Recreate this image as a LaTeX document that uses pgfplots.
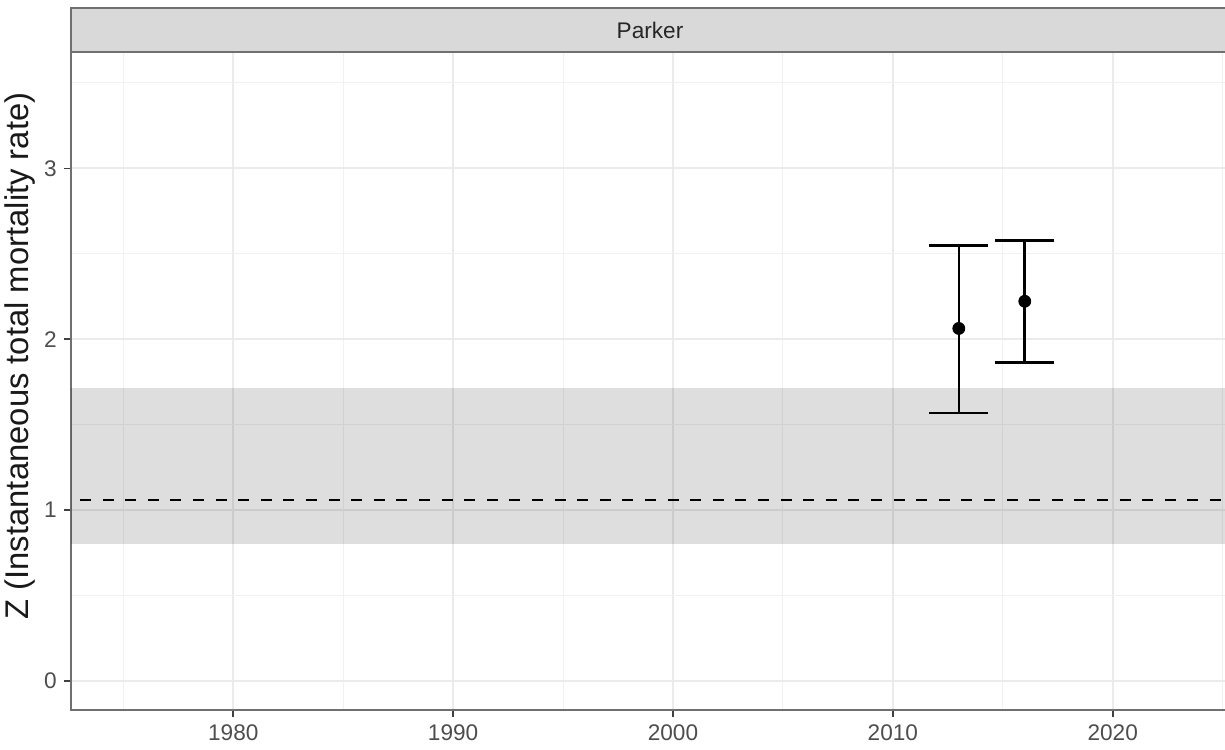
\documentclass[border=0pt]{standalone}
\usepackage{fontspec}
\setmainfont{Liberation Sans}
\usepackage{pgfplots}
\pgfplotsset{compat=1.18}
\definecolor{tickgray}{HTML}{4D4D4D}
\definecolor{gridgray}{HTML}{EBEBEB}
\definecolor{stripfill}{HTML}{D9D9D9}
\definecolor{bordergray}{HTML}{707070}
\begin{document}
\begin{tikzpicture}
\useasboundingbox (0,0) rectangle (612.5pt,374.5pt);
\begin{axis}[
  name=ax,
  at={(35.5pt,19.5pt)}, anchor=south west,
  scale only axis, width=579pt, height=329pt,
  xmin=1972.62, xmax=2025.29, ymin=-0.170, ymax=3.681,
  xtick={1980,1990,2000,2010,2020}, ytick={0,1,2,3},
  minor xtick={1975,1985,1995,2005,2015,2025},
  minor ytick={0.5,1.5,2.5,3.5},
  grid=both,
  major grid style={draw=gridgray, line width=1pt},
  minor grid style={draw=gridgray!70, line width=0.5pt},
  minor tick length=0pt,
  major tick length=3.6pt,
  tick align=outside,
  xtick pos=bottom, ytick pos=left,
  tick style={draw=black!75, line width=0.8pt},
  axis line style={draw=bordergray, line width=0.8pt},
  /pgf/number format/assume math mode=true,
  /pgf/number format/1000 sep={},
  ticklabel style={font=\fontsize{11.3}{13}\selectfont, text=tickgray},
  ylabel={Z (Instantaneous total mortality rate)},
  ylabel style={at={(rel axis cs:0,0.538)}, anchor=center, yshift=25.5pt, font=\fontsize{16.4}{19}\selectfont, text=black!90},
]
\addplot[draw=none, fill=black, fill opacity=0.13, forget plot]
  coordinates {(1972,0.80) (2027,0.80) (2027,1.715) (1972,1.715)} -- cycle;
\addplot[black, line width=1.3pt, dash pattern=on 5.5pt off 5.8pt, forget plot]
  coordinates {(1972,1.058) (2027,1.058)};
\addplot[black, only marks, mark=*, mark size=3pt,
  error bars/.cd, y dir=both, y explicit,
  error bar style={line width=1.3pt, black},
  error mark options={rotate=90, mark size=14.7pt, line width=1.3pt, black}]
  coordinates {
    (2013,2.063) += (0,0.487) -= (0,0.494)
    (2016,2.222) += (0,0.357) -= (0,0.358)
  };
\end{axis}
\draw[fill=stripfill, draw=bordergray, line width=0.8pt] (ax.north west) rectangle ([yshift=22pt]ax.north east);
\node[font=\fontsize{11.3}{13}\selectfont, text=black!85] at ([yshift=11pt]ax.north) {Parker};
\end{tikzpicture}
\end{document}
